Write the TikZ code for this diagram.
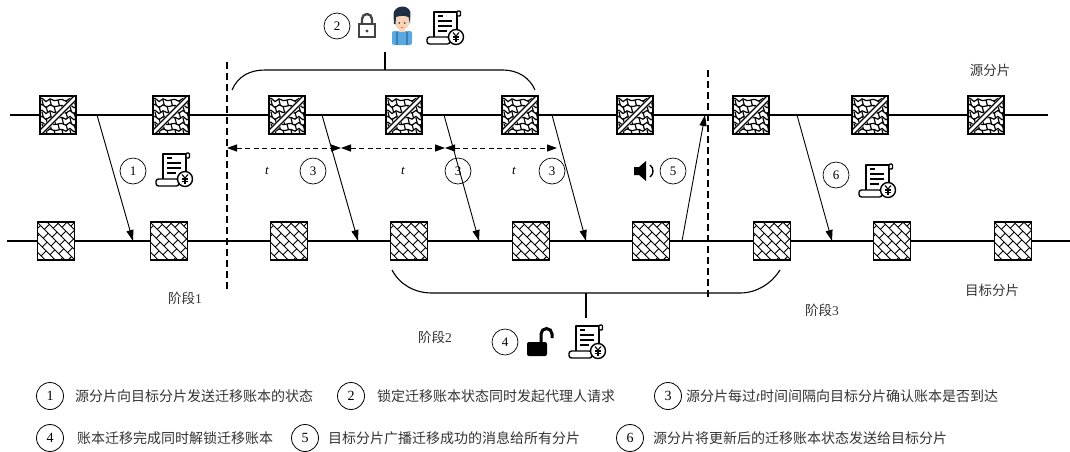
\documentclass[tikz,border=0pt]{standalone}
\usepackage{fontspec}
\setmainfont{Liberation Serif}
\newfontfamily\cjk{Noto Sans CJK SC}
\usetikzlibrary{arrows.meta}

\definecolor{txt}{HTML}{333333}
\definecolor{hair}{HTML}{1E2F45}
\definecolor{skin}{HTML}{F7D3B8}
\definecolor{shirt}{HTML}{5AA8E0}
\definecolor{strap}{HTML}{3B7DB5}
\definecolor{lockgray}{HTML}{444444}

% cobble texture of the source-shard blocks, split by a double diagonal
\newcommand\srcpat{%
  \begin{scope}[shift={(path picture bounding box.center)}, line width=1.2]
    \foreach \r in {-15,-9,-3,3,9,15}{
      \draw plot[smooth, domain=-20:20, samples=11] (\x,{\r+1.8*sin(\x*50)});
    }
    \foreach \r/\o in {-15/0,-9/4,-3/0,3/4,9/0,15/4}{
      \foreach \c in {-16,-8,0,8,16}{
        \draw (\c+\o,\r) -- ++(1.5,6);
      }
    }
    \draw[white,line width=6] (-22,22) -- (22,-22);
    \draw (-22,19) -- (19,-22);
    \draw (-19,22) -- (22,-19);
  \end{scope}}

% diagonal brick texture of the target-shard blocks (rows run at 45 degrees)
\newcommand\dstpat{%
  \begin{scope}[shift={(path picture bounding box.center)}, line width=0.9]
    \foreach \k in {-4,...,4}{
      \pgfmathsetmacro\v{\k*7}
      \draw ({(-30-\v)*0.7071},{(-30+\v)*0.7071}) -- ({(30-\v)*0.7071},{(30+\v)*0.7071});
      \foreach \j in {-3,...,3}{
        \pgfmathsetmacro\u{\j*11+mod(\k+10,2)*5.5}
        \draw ({(\u-\v)*0.7071},{(\u+\v)*0.7071}) -- ({(\u-\v-7)*0.7071},{(\u+\v+7)*0.7071});
      }
    }
  \end{scope}}

\begin{document}
\begin{tikzpicture}[x=1pt,y=-1pt,
  lane/.style={line width=1.2},
  srcbox/.style={draw, line width=1.8, fill=white, minimum width=36, minimum height=38,
    inner sep=0, path picture={\srcpat}},
  dstbox/.style={draw, line width=1.5, fill=white, minimum width=37, minimum height=38,
    inner sep=0, path picture={\dstpat}},
  arr/.style={-{Triangle[length=11pt,width=7pt]}, line width=0.9},
  tarr/.style={{Triangle[length=10pt,width=7pt]}-{Triangle[length=10pt,width=7pt]},
    dash pattern=on 5pt off 3.5pt, line width=1},
  phase/.style={draw, dash pattern=on 7pt off 4pt, line width=1.3},
  brace/.style={line width=1.1},
  num/.style={circle, draw, line width=0.7, minimum size=26, inner sep=0,
    font=\fontsize{13}{14}\selectfont},
  leg/.style={circle, draw, line width=0.8, minimum size=27, inner sep=0,
    font=\fontsize{14}{15}\selectfont},
  lab/.style={inner sep=0, text=txt, font=\cjk\fontsize{13.5}{16}\selectfont},
  legtxt/.style={anchor=west, inner sep=0, text=txt, font=\cjk\fontsize{14}{16}\selectfont},
  tlab/.style={inner sep=0, font=\fontsize{13}{14}\selectfont\itshape},
  % scroll bill with a yuan coin
  bill/.pic={
    \begin{scope}[line width=1.4, line join=round]
      \draw[fill=white] (-11,10) -- (-11,-16) -- (12,-16) -- (12,4);
      \draw[fill=white, rounded corners=1] (12,-17) rectangle (15.5,-12);
      \draw[fill=white, rounded corners=2.5] (-18,9) rectangle (5,16);
      \draw (-7,-12) -- (-2,-12);
      \draw (-7,-7) -- (7,-7);
      \draw (-7,-2) -- (7,-2);
      \draw (-7,3) -- (2,3);
      \draw[fill=white] (11,9) circle (7.5);
      \draw[line width=1.1] (8,4.5) -- (11,8) -- (14,4.5);
      \draw[line width=1.1] (11,8) -- (11,14);
      \draw[line width=1.1] (8,9) -- (14,9);
      \draw[line width=1.1] (8,11.5) -- (14,11.5);
    \end{scope}
  },
  lockshut/.pic={
    \draw[lockgray, line width=2.4] (-5,-2) -- (-5,-6) arc (180:360:5) -- (5,-2);
    \draw[lockgray, line width=2.4, fill=white] (-8,-1) rectangle (8,12);
    \fill[lockgray] (0,6) circle (1.6);
  },
  lockopen/.pic={
    \draw[line width=3] (1,-1) -- (1,-9) arc (180:360:5.5) -- (12,-5);
    \fill[rounded corners=2] (-13,-1) rectangle (7,13);
  },
  speaker/.pic={
    \fill (-11,-4) -- (-6,-4) -- (1,-10) -- (1,10) -- (-6,4) -- (-11,4) -- cycle;
    \draw[line width=1.4] (5,-6) .. controls (9,-3) and (9,3) .. (5,6);
  },
  agent/.pic={
    \fill[shirt, rounded corners=2] (-10,6) rectangle (10,20);
    \draw[strap, line width=1.6] (-5,7) -- (-5,20);
    \draw[strap, line width=1.6] (5,7) -- (5,20);
    \fill[skin] (-3,1) rectangle (3,7);
    \fill[skin] (0,-4) ellipse (7.5 and 9);
    \fill[hair] (-8,-1) -- (-8.5,-11) .. controls (-8,-19) and (5,-22) .. (8.5,-13)
      -- (8,-1) -- (6.5,-8) .. controls (2,-10) and (-3,-9) .. (-6,-8) -- (-6.5,-1) -- cycle;
    \fill[hair] (-2.7,-2) circle (0.9);
    \fill[hair] (2.7,-2) circle (0.9);
    \fill[red!50!skin] (0,2.5) ellipse (1.5 and 0.7);
  }
]
\useasboundingbox (0,0) rectangle (1070,451);

% timelines of the two shards
\coordinate (sL) at (10,115);
\coordinate (sR) at (1048,115);
\coordinate (dL) at (7,241);
\coordinate (dR) at (1070,241);
\draw[lane] (sL) -- (sR);
\draw[lane] (dL) -- (dR);

% phase separators
\coordinate (v1t) at (227,62);
\coordinate (v1b) at (227,292);
\coordinate (v2t) at (708,70);
\coordinate (v2b) at (708,300);
\draw[phase] (v1t) -- (v1b);
\draw[phase] (v2t) -- (v2b);

% blocks
\foreach \x [count=\i] in {58,171,287,404,520,635,751,870,986}
  \node[srcbox] (s\i) at (\x,115) {};
\foreach \x [count=\i] in {56,169,289,409,531,651,772,892,1013}
  \node[dstbox] (d\i) at (\x,241) {};

% messages between the shards
\coordinate (p1) at (97,115);   \coordinate (q1) at (133,241);
\coordinate (p2) at (322,115);  \coordinate (q2) at (358,241);
\coordinate (p3) at (444,115);  \coordinate (q3) at (479,241);
\coordinate (p4) at (552,115);  \coordinate (q4) at (586,241);
\coordinate (q5) at (682,241);  \coordinate (p5) at (705,115);
\coordinate (p6) at (797,115);  \coordinate (q6) at (832,241);
\draw[arr] (p1) -- (q1);
\draw[arr] (p2) -- (q2);
\draw[arr] (p3) -- (q3);
\draw[arr] (p4) -- (q4);
\draw[arr] (q5) -- (p5);
\draw[arr] (p6) -- (q6);

% confirmation intervals
\coordinate (t0) at (227,148);
\coordinate (t1) at (341,148);
\coordinate (t2) at (445,148);
\coordinate (t3) at (557,148);
\draw[tarr] (t0) -- (t1);
\draw[tarr] (t1) -- (t2);
\draw[tarr] (t2) -- (t3);
\node[tlab] (ta) at (267,171) {t};
\node[tlab] (tb) at (403,171) {t};
\node[tlab] (tc) at (514,171) {t};

% upper brace for the locked period
\coordinate (ubL) at (232,90);
\coordinate (ubR) at (535,90);
\coordinate (ubM) at (385,70);
\coordinate (ubT) at (385,52);
\draw[brace] (ubL) .. controls (238,76) and (250,70) .. (265,70) -- (503,70)
  .. controls (518,70) and (530,78) .. (ubR);
\draw[brace] (ubT) -- (ubM);

% lower brace for the unlocking
\coordinate (lbL) at (392,270);
\coordinate (lbR) at (780,270);
\coordinate (lbM) at (586,293);
\coordinate (lbB) at (586,318);
\draw[brace] (lbL) .. controls (400,285) and (415,293) .. (432,293) -- (740,293)
  .. controls (757,293) and (772,283) .. (lbR);
\draw[brace] (lbM) -- (lbB);

% step markers
\node[num] (n1) at (133,171) {1};
\node[num] (n2) at (337,26) {2};
\node[num] (n3a) at (313,171) {3};
\node[num] (n3b) at (458,171) {3};
\node[num] (n3c) at (552,171) {3};
\node[num] (n4) at (505,342) {4};
\node[num] (n5) at (673,171) {5};
\node[num] (n6) at (836,175) {6};

% icons
\pic (bill1) at (174,170) {bill};
\pic (bill2) at (445,28) {bill};
\pic (bill3) at (877,181) {bill};
\pic (bill4) at (587,342) {bill};
\pic (lk) at (367,25) {lockshut};
\pic (ag) at (402,25) {agent};
\pic (ul) at (540,343) {lockopen};
\pic (sp) at (645,171) {speaker};

% shard and phase names
\node[lab] (srcname) at (990,70) {源分片};
\node[lab] (dstname) at (992,290) {目标分片};
\node[lab] (ph1) at (185,298) {阶段{\rmfamily 1}};
\node[lab] (ph2) at (435,337) {阶段{\rmfamily 2}};
\node[lab] (ph3) at (822,310) {阶段{\rmfamily 3}};

% legend
\node[leg] (L1) at (50,396) {1};
\node[legtxt] (T1) at (75,396) {源分片向目标分片发送迁移账本的状态};
\node[leg] (L2) at (351,396) {2};
\node[legtxt] (T2) at (377,396) {锁定迁移账本状态同时发起代理人请求};
\node[leg] (L3) at (668,396) {3};
\node[legtxt] (T3) at (686,396) {源分片每过{\rmfamily\itshape t}时间间隔向目标分片确认账本是否到达};
\node[leg] (L4) at (50,438) {4};
\node[legtxt] (T4) at (77,438) {账本迁移完成同时解锁迁移账本};
\node[leg] (L5) at (305,438) {5};
\node[legtxt] (T5) at (328,438) {目标分片广播迁移成功的消息给所有分片};
\node[leg] (L6) at (630,438) {6};
\node[legtxt] (T6) at (653,438) {源分片将更新后的迁移账本状态发送给目标分片};
\end{tikzpicture}
\end{document}
